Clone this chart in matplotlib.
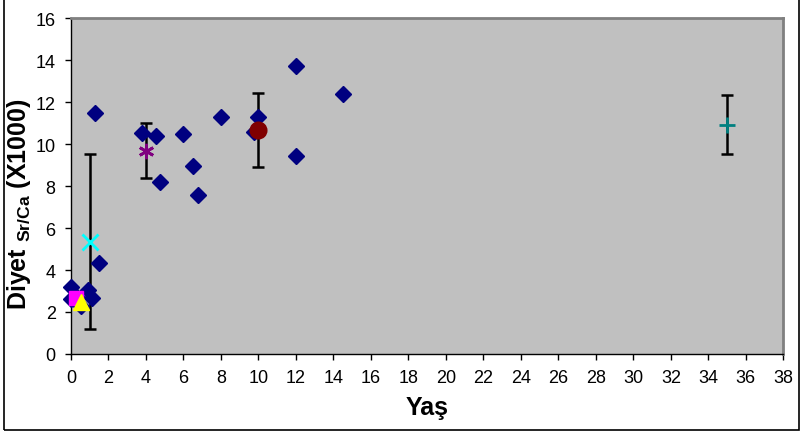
import matplotlib.pyplot as plt
from matplotlib.patches import Rectangle

plt.rcParams['font.family'] = ['Liberation Sans', 'DejaVu Sans']
plt.rcParams['mathtext.fontset'] = 'custom'
plt.rcParams['mathtext.rm'] = 'Liberation Sans'
plt.rcParams['mathtext.bf'] = 'Liberation Sans:bold'

# individual diet Sr/Ca values (navy diamonds)
age = [0, 0.9, 1.1, 0, 0.55, 0.3, 1.28, 1.5, 3.77, 4.54, 4.77, 6.0, 6.53, 6.76,
       8.0, 9.75, 10.0, 12.0, 12.0, 14.5]
sr_ca = [3.2, 3.05, 2.65, 2.6, 2.3, 2.7, 11.5, 4.32, 10.52, 10.4, 8.18, 10.46, 8.96, 7.57,
         11.3, 10.56, 11.28, 13.72, 9.45, 12.4]

# group means with error bars
mean_age = [1, 4, 10, 35]
mean_val = [5.35, 9.68, 10.68, 10.92]
err_lo = [1.2, 8.37, 8.92, 9.52]
err_hi = [9.51, 11.0, 12.41, 12.33]
mean_marker = ['x', (6, 2, 0), 'o', '+']
mean_color = ['#00FFFF', '#800080', '#800000', '#008080']
mean_size = [11, 11, 11, 11]

# single points
sq_age, sq_val = [0.25], [2.65]
tri_age, tri_val = [0.52], [2.46]

fig = plt.figure(figsize=(8.04, 4.35), dpi=100)
ax = fig.add_axes([0.0883, 0.184, 0.886, 0.772])
ax.set_facecolor('#C0C0C0')

for i in range(len(mean_age)):
    lo = mean_val[i] - err_lo[i]
    hi = err_hi[i] - mean_val[i]
    ax.errorbar(mean_age[i], mean_val[i], yerr=[[lo], [hi]], fmt='none',
                ecolor='black', elinewidth=1.8, capsize=4.5, capthick=1.8, zorder=2)

ax.plot(age, sr_ca, 'D', color='#000080', markersize=8, linestyle='none',
        clip_on=False, zorder=3)

for i in range(len(mean_age)):
    ax.plot(mean_age[i], mean_val[i], marker=mean_marker[i], color=mean_color[i],
            markersize=mean_size[i], markeredgewidth=2, linestyle='none', zorder=4)

ax.plot(sq_age, sq_val, 's', color='#FF00FF', markersize=10, clip_on=False, zorder=5)
ax.plot(tri_age, tri_val, '^', color='#FFFF00', markersize=11, clip_on=False, zorder=6)

ax.set_xlim(0, 38)
ax.set_ylim(0, 16)
ax.set_xticks(range(0, 39, 2))
ax.set_yticks(range(0, 17, 2))
ax.tick_params(direction='out', length=4, width=1, labelsize=13, pad=7)

for s in ['top', 'right']:
    ax.spines[s].set_color('#808080')
    ax.spines[s].set_linewidth(2)
for s in ['left', 'bottom']:
    ax.spines[s].set_color('black')
    ax.spines[s].set_linewidth(1)

ax.set_xlabel('Yaş', fontsize=18, fontweight='bold', labelpad=6)
ax.set_ylabel(r'Diyet $_{\mathbf{Sr/Ca}}$ (X1000)', fontsize=18, fontweight='bold')
ax.yaxis.set_label_coords(-0.053, 0.45)

fig.patches.append(Rectangle((4 / 804, 1 - 431 / 435), 795 / 804, 431 / 435 + 0.05,
                             transform=fig.transFigure, fill=False,
                             edgecolor='black', linewidth=1.2))

plt.savefig('out.png', dpi=100)
